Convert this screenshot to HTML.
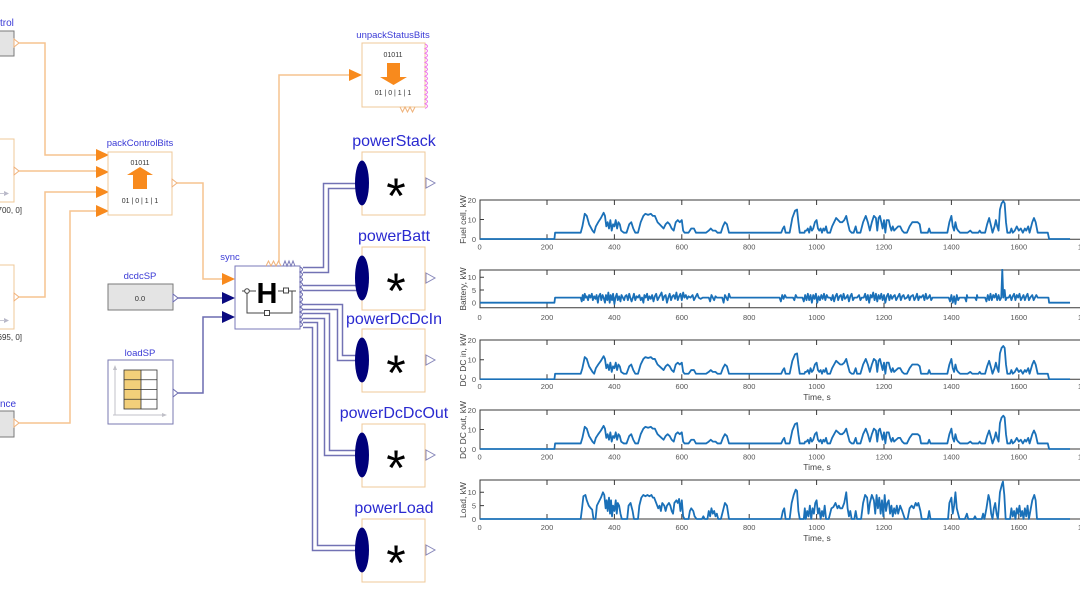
<!DOCTYPE html>
<html>
<head>
<meta charset="utf-8">
<style>
html,body{margin:0;padding:0;background:#fff;}
svg{display:block;}
</style>
</head>
<body>
<svg width="1080" height="608" viewBox="0 0 1080 608" xmlns="http://www.w3.org/2000/svg" font-family="'Liberation Sans', sans-serif">
<rect width="1080" height="608" fill="#fff"/>

<!-- ================= LEFT DIAGRAM ================= -->
<rect x="-10" y="31" width="24" height="25" fill="#e4e4e4" stroke="#7a7a7a" stroke-width="1"/>
<text x="0" y="26" font-size="10" fill="#3a3ad6">trol</text>
<polygon points="14,39 19,43 14,47" fill="#fff" stroke="#f0b27a" stroke-width="1"/>

<rect x="-50" y="139" width="64" height="63" fill="#fff" stroke="#efc898" stroke-width="1"/>
<polygon points="14,167 19,171 14,175" fill="#fff" stroke="#f0b27a" stroke-width="1"/>
<polygon points="4,191 9,193.5 4,196" fill="#b8b8c8"/>
<line x1="-2" y1="193.5" x2="5" y2="193.5" stroke="#c8c8d4" stroke-width="1"/>
<text x="22" y="213" font-size="8" fill="#333" text-anchor="end">[1700, 0]</text>

<rect x="-50" y="265" width="64" height="64" fill="#fff" stroke="#efc898" stroke-width="1"/>
<polygon points="14,293 19,297 14,301" fill="#fff" stroke="#f0b27a" stroke-width="1"/>
<polygon points="4,318 9,320.5 4,323" fill="#b8b8c8"/>
<line x1="-2" y1="320.5" x2="5" y2="320.5" stroke="#c8c8d4" stroke-width="1"/>
<text x="22" y="340" font-size="8" fill="#333" text-anchor="end">[1695, 0]</text>

<text x="0" y="407" font-size="10" fill="#3a3ad6">nce</text>
<rect x="-10" y="411" width="24" height="26" fill="#e4e4e4" stroke="#7a7a7a" stroke-width="1"/>
<polygon points="14,419 19,423 14,427" fill="#fff" stroke="#f0b27a" stroke-width="1"/>

<!-- orange wires -->
<g fill="none" stroke="#f6c38f" stroke-width="1.5">
<path d="M19,43 H45 V155 H97"/>
<path d="M19,171 H97"/>
<path d="M19,297 H45 V192 H97"/>
<path d="M19,423 H70 V211 H97"/>
<path d="M177,183 H203 V279 H222"/>
<path d="M279,262 V75 H349"/>
</g>
<g fill="#f88a1d">
<polygon points="96,149 109,155 96,161"/>
<polygon points="96,166 109,172 96,178"/>
<polygon points="96,186 109,192 96,198"/>
<polygon points="96,205 109,211 96,217"/>
<polygon points="222,273 235,279 222,285"/>
<polygon points="349,69 362,75 349,81"/>
</g>

<!-- packControlBits -->
<text x="140" y="146" font-size="9.5" fill="#3a3ad6" text-anchor="middle">packControlBits</text>
<rect x="108" y="152" width="64" height="63" fill="#fff" stroke="#efc898" stroke-width="1"/>
<text x="140" y="165" font-size="7" fill="#333" text-anchor="middle">01011</text>
<polygon points="140,167 153,175 147,175 147,189 133,189 133,175 127,175" fill="#f88a1d"/>
<text x="140" y="203" font-size="7" fill="#333" text-anchor="middle">01 | 0 | 1 | 1</text>
<polygon points="172,179 177,183 172,187" fill="#fff" stroke="#f0b27a" stroke-width="1"/>

<!-- dcdcSP -->
<text x="140" y="279" font-size="9.5" fill="#3a3ad6" text-anchor="middle">dcdcSP</text>
<rect x="108" y="284" width="65" height="26" fill="#e4e4e4" stroke="#7a7a7a" stroke-width="1"/>
<text x="140" y="301" font-size="7.5" fill="#333" text-anchor="middle">0.0</text>
<polygon points="173,294 178,298 173,302" fill="#fff" stroke="#6c6cb0" stroke-width="1"/>

<!-- loadSP -->
<text x="140" y="356" font-size="9.5" fill="#3a3ad6" text-anchor="middle">loadSP</text>
<rect x="108" y="360" width="65" height="64" fill="#fff" stroke="#7a7ab0" stroke-width="1"/>
<line x1="115" y1="368" x2="115" y2="415" stroke="#c0c0c8" stroke-width="1"/>
<line x1="113" y1="415" x2="165" y2="415" stroke="#c0c0c8" stroke-width="1"/>
<polygon points="113,370 115,365 117,370" fill="#c0c0c8"/>
<polygon points="162,413 167,415 162,417" fill="#c0c0c8"/>
<rect x="124" y="370" width="17" height="39" fill="#f2cf7a"/>
<rect x="141" y="370" width="16" height="39" fill="#fff"/>
<g stroke="#333" stroke-width="0.8" fill="none">
<rect x="124" y="370" width="33" height="39"/>
<line x1="141" y1="370" x2="141" y2="409"/>
<line x1="124" y1="379.75" x2="157" y2="379.75"/>
<line x1="124" y1="389.5" x2="157" y2="389.5"/>
<line x1="124" y1="399.25" x2="157" y2="399.25"/>
</g>
<polygon points="173,389 178,393 173,397" fill="#fff" stroke="#6c6cb0" stroke-width="1"/>

<g fill="none" stroke="#6c6cb0" stroke-width="1.5">
<path d="M178,298 H222"/>
<path d="M178,393 H203 V317 H222"/>
</g>
<g fill="#0a0a80">
<polygon points="222,292 235,298 222,304"/>
<polygon points="222,311 235,317 222,323"/>
</g>

<!-- sync -->
<text x="230" y="260" font-size="9.5" fill="#3a3ad6" text-anchor="middle">sync</text>
<rect x="235" y="266" width="65" height="63" fill="#fff" stroke="#7a7ab8" stroke-width="1"/>
<path d="M266,266 l2.5,-5 l2.5,5 l2.5,-5 l2.5,5 l2.5,-5 l2.5,5" fill="none" stroke="#f0b27a" stroke-width="1"/>
<path d="M283,266 l2,-5 l2,5 l2,-5 l2,5 l2,-5 l2,5" fill="none" stroke="#7a7ab8" stroke-width="1"/>
<path d="M300,267 q5,2.5 0,5 q5,2.5 0,5 q5,2.5 0,5 q5,2.5 0,5 q5,2.5 0,5 q5,2.5 0,5 q5,2.5 0,5 q5,2.5 0,5 q5,2.5 0,5 q5,2.5 0,5 q5,2.5 0,5 q5,2.5 0,5" fill="none" stroke="#6a6ab0" stroke-width="1"/>
<text x="267" y="303" font-size="29" font-weight="bold" fill="#000" text-anchor="middle">H</text>
<g stroke="#444" stroke-width="1" fill="none">
<line x1="242" y1="291" x2="256" y2="291"/>
<line x1="278" y1="291" x2="296" y2="291"/>
<path d="M247,291 V313 H292 V291"/>
</g>
<circle cx="247" cy="291" r="2.3" fill="#fff" stroke="#444" stroke-width="1"/>
<rect x="283.5" y="288" width="5" height="5" fill="#fff" stroke="#444" stroke-width="1"/>
<rect x="264.5" y="310.5" width="5" height="5" fill="#fff" stroke="#444" stroke-width="1"/>

<!-- unpackStatusBits -->
<text x="393" y="38" font-size="9.5" fill="#3a3ad6" text-anchor="middle">unpackStatusBits</text>
<rect x="362" y="43" width="63" height="64" fill="#fff" stroke="#efc898" stroke-width="1"/>
<text x="393" y="57" font-size="7" fill="#333" text-anchor="middle">01011</text>
<polygon points="387,63 400,63 400,77 407,77 393.5,85 380,77 387,77" fill="#f88a1d"/>
<text x="393" y="95" font-size="7" fill="#333" text-anchor="middle">01 | 0 | 1 | 1</text>
<path d="M425,44 q5,2.3 0,4.6 q5,2.3 0,4.6 q5,2.3 0,4.6 q5,2.3 0,4.6 q5,2.3 0,4.6 q5,2.3 0,4.6 q5,2.3 0,4.6 q5,2.3 0,4.6 q5,2.3 0,4.6 q5,2.3 0,4.6 q5,2.3 0,4.6 q5,2.3 0,4.6 q5,2.3 0,4.6 q5,2.3 0,4.6" fill="none" stroke="#ee77ee" stroke-width="1"/>
<path d="M400,107 l2.5,5 l2.5,-5 l2.5,5 l2.5,-5 l2.5,5 l2.5,-5" fill="none" stroke="#f0b27a" stroke-width="1"/>

<!-- buses -->
<g fill="none" stroke="#7272b4" stroke-width="6.5" stroke-linejoin="miter">
<path d="M303,270 H326 V186 H358"/>
<path d="M303,288 H358"/>
<path d="M303,307 H340 V358 H358"/>
<path d="M303,316 H327 V453 H358"/>
<path d="M303,325 H315 V548 H358"/>
</g>
<g fill="none" stroke="#fff" stroke-width="3.5" stroke-linejoin="miter">
<path d="M303,270 H326 V186 H358"/>
<path d="M303,288 H358"/>
<path d="M303,307 H340 V358 H358"/>
<path d="M303,316 H327 V453 H358"/>
<path d="M303,325 H315 V548 H358"/>
</g>

<!-- power blocks -->
<g font-size="16" fill="#2a2ad0" text-anchor="middle">
<text x="394" y="146">powerStack</text>
<text x="394" y="241">powerBatt</text>
<text x="394" y="324">powerDcDcIn</text>
<text x="394" y="418">powerDcDcOut</text>
<text x="394" y="513">powerLoad</text>
</g>
<g fill="#fff" stroke="#efc898" stroke-width="1">
<rect x="362" y="152" width="63" height="63"/>
<rect x="362" y="247" width="63" height="63"/>
<rect x="362" y="329" width="63" height="63"/>
<rect x="362" y="424" width="63" height="63"/>
<rect x="362" y="519" width="63" height="63"/>
</g>
<g fill="#00007a">
<ellipse cx="362" cy="183" rx="7" ry="22.5"/>
<ellipse cx="362" cy="278" rx="7" ry="22.5"/>
<ellipse cx="362" cy="360" rx="7" ry="22.5"/>
<ellipse cx="362" cy="455" rx="7" ry="22.5"/>
<ellipse cx="362" cy="550" rx="7" ry="22.5"/>
</g>
<g font-size="50" fill="#000" text-anchor="middle">
<text x="396" y="213">*</text>
<text x="396" y="308">*</text>
<text x="396" y="390">*</text>
<text x="396" y="485">*</text>
<text x="396" y="580">*</text>
</g>
<g fill="#fff" stroke="#8888bb" stroke-width="1">
<polygon points="426,178 435,183 426,188"/>
<polygon points="426,273 435,278 426,283"/>
<polygon points="426,355 435,360 426,365"/>
<polygon points="426,450 435,455 426,460"/>
<polygon points="426,545 435,550 426,555"/>
</g>

<!-- ================= CHARTS ================= -->
<defs>
<clipPath id="c1"><rect x="480" y="199" width="600" height="41"/></clipPath>
<clipPath id="c2"><rect x="480" y="269" width="600" height="39"/></clipPath>
<clipPath id="c3"><rect x="480" y="339" width="600" height="41"/></clipPath>
<clipPath id="c4"><rect x="480" y="409" width="600" height="41"/></clipPath>
<clipPath id="c5"><rect x="480" y="479" width="600" height="41"/></clipPath>
<polyline id="fc" fill="none" stroke="#1a70b8" stroke-width="1.8" stroke-linejoin="round" vector-effect="non-scaling-stroke" points="0,0 222,0 224,3 300,3 305,6 312,12 318,11 325,7 335,4 340,3 345,6 352,8 360,10 368,12.5 372,11 376,6 380,8 384,5 388,9 392,4 396,7 400,6 404,9 408,5 412,8 416,7 420,4 428,3 436,3 444,7 450,8 456,5 462,3 470,3 478,8 486,11 492,12 500,11.5 508,12 514,11 520,11 528,8 534,7 540,6 546,5 552,7 558,8 564,7 570,5 576,4 582,8 588,9 594,8 600,9 604,4 608,3 620,3 628,5 636,5 642,3 672,3 680,4 686,5 692,4 700,4 706,3 716,3 722,6 728,8 734,7 740,3 895,3 900,5 904,6 908,3 920,3 928,10 936,13.5 942,14 946,8 950,3 964,3 966,4 970,4 974,5 978,3 982,6 986,4 990,5 995,8 1000,9 1004,5 1008,4 1012,5 1016,3 1020,5 1024,4 1028,6 1032,3 1040,3 1046,6 1052,8 1058,10 1064,9 1070,8 1076,8 1082,9 1088,11 1092,8 1098,4 1104,3 1110,3 1116,6 1120,3 1130,3 1138,8 1146,11 1152,8 1158,4 1164,8 1170,11 1176,10 1180,4 1184,10 1188,11 1192,8 1196,5 1200,9 1204,3 1208,9 1214,9 1218,6 1222,4 1226,6 1230,4 1236,5 1242,6 1248,6 1254,4 1260,3 1268,3 1276,6 1284,8 1292,8 1300,8 1306,7 1310,3 1330,3 1334,5 1338,3 1388,3 1394,8 1400,11 1404,6 1408,4 1412,8 1416,5 1420,4 1426,3 1448,3 1456,4 1462,3 1480,3 1484,4 1488,3 1500,3 1506,7 1512,10 1518,6 1522,3 1528,6 1532,9 1536,6 1540,4 1544,14 1549,17 1554,18 1558,17 1562,8 1566,3 1574,3 1578,5 1582,3 1588,4 1594,6 1600,4 1606,5 1612,3 1618,5 1622,4 1628,6 1632,3 1640,8 1645,10 1650,8 1656,3 1686,3 1690,0 1752,0"/>
</defs>

<g fill="none" stroke="#3a3a3a" stroke-width="1">
<path d="M1080,200 H480 V239.3 H1080"/>
<path d="M1080,270 H480 V307.7 H1080"/>
<path d="M1080,340 H480 V379.3 H1080"/>
<path d="M1080,410 H480 V449 H1080"/>
<path d="M1080,480 H480 V519 H1080"/>
</g>
<g stroke="#3a3a3a" stroke-width="1">
<path d="M547,200 v5 M614.4,200 v5 M681.8,200 v5 M749.2,200 v5 M816.6,200 v5 M884,200 v5 M951.4,200 v5 M1018.8,200 v5 M547,239.3 v-5 M614.4,239.3 v-5 M681.8,239.3 v-5 M749.2,239.3 v-5 M816.6,239.3 v-5 M884,239.3 v-5 M951.4,239.3 v-5 M1018.8,239.3 v-5"/>
<path d="M547,270 v5 M614.4,270 v5 M681.8,270 v5 M749.2,270 v5 M816.6,270 v5 M884,270 v5 M951.4,270 v5 M1018.8,270 v5 M547,307.7 v-5 M614.4,307.7 v-5 M681.8,307.7 v-5 M749.2,307.7 v-5 M816.6,307.7 v-5 M884,307.7 v-5 M951.4,307.7 v-5 M1018.8,307.7 v-5"/>
<path d="M547,340 v5 M614.4,340 v5 M681.8,340 v5 M749.2,340 v5 M816.6,340 v5 M884,340 v5 M951.4,340 v5 M1018.8,340 v5 M547,379.3 v-5 M614.4,379.3 v-5 M681.8,379.3 v-5 M749.2,379.3 v-5 M816.6,379.3 v-5 M884,379.3 v-5 M951.4,379.3 v-5 M1018.8,379.3 v-5"/>
<path d="M547,410 v5 M614.4,410 v5 M681.8,410 v5 M749.2,410 v5 M816.6,410 v5 M884,410 v5 M951.4,410 v5 M1018.8,410 v5 M547,449 v-5 M614.4,449 v-5 M681.8,449 v-5 M749.2,449 v-5 M816.6,449 v-5 M884,449 v-5 M951.4,449 v-5 M1018.8,449 v-5"/>
<path d="M547,480 v5 M614.4,480 v5 M681.8,480 v5 M749.2,480 v5 M816.6,480 v5 M884,480 v5 M951.4,480 v5 M1018.8,480 v5 M547,519 v-5 M614.4,519 v-5 M681.8,519 v-5 M749.2,519 v-5 M816.6,519 v-5 M884,519 v-5 M951.4,519 v-5 M1018.8,519 v-5"/>
<path d="M480,219.5 h4 M480,302.7 h4 M480,290 h4 M480,277.2 h4 M480,359.8 h4 M480,429.5 h4 M480,505.6 h4 M480,492.3 h4"/>
</g>

<g clip-path="url(#c1)"><use href="#fc" transform="translate(479.6,239) scale(0.337,-2.1)"/></g>
<g clip-path="url(#c3)"><use href="#fc" transform="translate(479.6,379.3) scale(0.337,-1.85)"/></g>
<g clip-path="url(#c4)"><use href="#fc" transform="translate(479.6,449) scale(0.337,-1.85)"/></g>
<g clip-path="url(#c2)">
<polyline transform="translate(479.6,302.7) scale(0.337,-2.55)" fill="none" stroke="#1a70b8" stroke-width="1.8" stroke-linejoin="round" vector-effect="non-scaling-stroke" points="0,0 222,0 224,2 300,2 303,0.5 306,3 309,1 312,3.5 315,2 318,2.5 322,1 325,3 329,2 333,3.5 336,1 340,2.5 344,1.5 347,3 351,0 354,2.5 358,3.5 361,1 365,3 368,2 372,0 375,3 379,1 382,4 386,0 389,3 393,1 396,3.5 400,-0.5 403,2 407,3.5 410,1 414,2.5 418,0.5 421,3 425,2 429,1 432,2.5 436,3 440,1 444,3.5 447,2 451,0.5 455,2 458,3.5 462,1 466,2.5 470,2 474,3 478,1 482,2 486,0 489,3 493,2 497,3.5 500,1 504,2.5 508,1.5 512,3 516,0.5 520,2.5 524,3.5 528,1 532,2 536,3 540,4 544,1 548,2.5 552,3 556,0 560,2 564,3.5 568,1 572,2.5 576,3 580,1.5 584,4 588,1 592,2.5 596,3.5 600,1 604,4 608,2 612,3 616,1.5 620,2.5 626,2 632,3 636,1 640,2 646,3.5 650,2 656,1.5 662,2 680,2 684,0.5 688,3 692,2 696,1 700,2.5 704,2 720,2 724,0 728,3 732,2 736,1 740,3.5 744,2 890,2 894,0.5 898,3 902,1.5 906,3 910,2 930,2 934,1 938,3 942,2 958,2 962,0.5 966,3 970,1 974,3.5 978,1 982,3 986,0 990,3 994,1.5 998,3.5 1002,0 1006,2.5 1010,1 1014,3 1018,1.5 1022,3.5 1026,1 1030,3 1034,2 1040,2 1044,1 1048,3 1052,0.5 1056,2.5 1060,3.5 1064,1 1068,2.5 1072,3 1076,1 1080,3.5 1084,1.5 1088,2 1092,3 1096,0.5 1100,2.5 1104,3.5 1108,1 1112,2 1120,2 1126,3 1130,1 1134,2 1140,2 1144,3.5 1148,1 1152,3 1156,0 1160,3 1164,2 1168,4 1172,1 1176,3.5 1180,0.5 1184,3 1188,1.5 1192,3.5 1196,1 1200,3 1204,0 1208,2.5 1212,3.5 1216,1 1220,3 1224,1.5 1228,2.5 1232,3 1236,1 1240,2 1246,3.5 1250,1 1254,2.5 1258,3 1262,1.5 1268,2 1272,3 1276,1 1280,2.5 1286,3 1290,1 1294,2 1298,3.5 1302,1 1306,2.5 1310,2 1316,3 1320,1 1324,3.5 1328,1.5 1332,2 1336,3 1340,1 1344,2 1392,2 1396,0.5 1400,3 1404,0 1408,2.5 1412,-0.5 1416,3 1420,1 1424,2 1440,2 1444,0.5 1446,3 1448,2 1470,2 1474,1 1476,3 1478,2 1500,2 1504,0.5 1508,3 1512,1 1516,3.5 1520,1 1524,3 1528,2 1532,3.5 1536,1 1540,3 1544,1 1548,2 1551,13 1554,2 1558,5 1561,1 1565,2 1570,2 1574,3 1578,1 1582,2.5 1586,3.5 1590,1 1594,3 1598,2 1602,3.5 1606,1 1610,2 1614,3 1618,1 1622,2.5 1626,3.5 1630,1 1634,2 1640,3 1644,1 1648,2 1652,3 1656,2 1688,2 1690,0 1752,0"/>
</g>
<g clip-path="url(#c5)">
<polyline transform="translate(479.6,519) scale(0.337,-2.67)" fill="none" stroke="#1a70b8" stroke-width="1.8" stroke-linejoin="round" vector-effect="non-scaling-stroke" points="0,0 300,0 304,4 308,8.5 314,9 318,7 324,5 330,4 334,3.5 338,0 344,0 348,5 354,6.5 360,8 366,10 370,9 374,4 377,7 380,3 384,8 387,2 390,7 393,1 396,5 400,3 404,7 407,2 410,6 414,5 418,2 422,0 438,0 442,5 448,6 454,3 458,0 470,0 474,5 480,8 486,9 492,8.5 498,9 504,8.5 510,9 514,8 518,8 524,6 530,4 534,5 538,3 542,6 548,5 552,3 556,5 562,6 566,5 570,3 574,2 578,6 584,7 588,6 592,7.5 596,3 600,7 604,1 608,0 620,0 624,3 628,4 634,3 638,1 644,0 660,0 664,1 668,0 676,0 680,3 684,1 688,4 692,2 696,3 700,1 704,2 708,0 716,0 722,3 728,6 734,5 740,0 895,0 900,3 904,4 908,0 920,0 926,6 932,9 938,11 942,10.5 946,3 950,0 962,0 965,4 968,0 972,3 976,1 980,5 984,0 988,4 992,2 996,6 1000,7 1004,2 1008,4 1012,0 1016,3 1020,1 1024,5 1028,0 1036,0 1044,4 1050,4.5 1056,6 1062,4 1066,5 1070,4 1076,4 1082,6 1088,10 1092,4 1096,1 1100,3 1104,0 1112,0 1116,3 1120,0 1132,0 1138,6 1144,9 1150,8 1154,2 1158,6 1164,9 1170,7 1174,2 1178,9 1182,4 1186,8 1190,2 1194,7 1198,1 1202,9 1206,3 1210,6 1214,7 1218,2 1222,5 1226,1 1230,4 1234,2 1238,5 1242,2 1248,5 1254,3 1262,0 1270,0 1276,4 1282,5 1288,4 1294,6 1298,5 1302,6 1308,3 1312,0 1330,0 1334,3 1338,0 1390,0 1394,6 1400,8 1404,2 1408,5 1412,10 1416,4 1420,2 1424,0 1440,0 1446,2 1450,0 1466,0 1470,1 1474,0 1490,0 1494,2 1498,0 1504,4 1510,9 1514,7 1518,2 1522,0 1526,4 1530,6 1534,2 1538,0 1544,10 1550,13 1553,14 1557,9 1561,0 1574,0 1578,4 1582,1 1586,3 1590,0 1594,4 1598,2 1602,5 1606,1 1610,3 1614,0 1618,4 1622,1 1626,5 1630,0 1640,7 1646,9 1650,7 1654,0 1752,0"/>
</g>

<g font-size="7.5" fill="#555" text-anchor="middle">
<text x="479.6" y="249.5">0</text><text x="547" y="249.5">200</text><text x="614.4" y="249.5">400</text><text x="681.8" y="249.5">600</text><text x="749.2" y="249.5">800</text><text x="816.6" y="249.5">1000</text><text x="884" y="249.5">1200</text><text x="951.4" y="249.5">1400</text><text x="1018.8" y="249.5">1600</text><text x="1086.2" y="249.5">1800</text>
<text x="479.6" y="320">0</text><text x="547" y="320">200</text><text x="614.4" y="320">400</text><text x="681.8" y="320">600</text><text x="749.2" y="320">800</text><text x="816.6" y="320">1000</text><text x="884" y="320">1200</text><text x="951.4" y="320">1400</text><text x="1018.8" y="320">1600</text><text x="1086.2" y="320">1800</text>
<text x="479.6" y="389">0</text><text x="547" y="389">200</text><text x="614.4" y="389">400</text><text x="681.8" y="389">600</text><text x="749.2" y="389">800</text><text x="816.6" y="389">1000</text><text x="884" y="389">1200</text><text x="951.4" y="389">1400</text><text x="1018.8" y="389">1600</text><text x="1086.2" y="389">1800</text>
<text x="479.6" y="459.5">0</text><text x="547" y="459.5">200</text><text x="614.4" y="459.5">400</text><text x="681.8" y="459.5">600</text><text x="749.2" y="459.5">800</text><text x="816.6" y="459.5">1000</text><text x="884" y="459.5">1200</text><text x="951.4" y="459.5">1400</text><text x="1018.8" y="459.5">1600</text><text x="1086.2" y="459.5">1800</text>
<text x="479.6" y="530">0</text><text x="547" y="530">200</text><text x="614.4" y="530">400</text><text x="681.8" y="530">600</text><text x="749.2" y="530">800</text><text x="816.6" y="530">1000</text><text x="884" y="530">1200</text><text x="951.4" y="530">1400</text><text x="1018.8" y="530">1600</text><text x="1086.2" y="530">1800</text>
</g>
<g font-size="7.5" fill="#555" text-anchor="end">
<text x="476" y="203">20</text><text x="476" y="222.5">10</text><text x="476" y="242">0</text>
<text x="476" y="280">10</text><text x="476" y="293">5</text><text x="476" y="305.5">0</text>
<text x="476" y="343">20</text><text x="476" y="362.5">10</text><text x="476" y="382">0</text>
<text x="476" y="413">20</text><text x="476" y="432.5">10</text><text x="476" y="452">0</text>
<text x="476" y="495">10</text><text x="476" y="508.5">5</text><text x="476" y="522">0</text>
</g>
<g font-size="8.5" fill="#444" text-anchor="middle">
<text transform="translate(466,219.5) rotate(-90)">Fuel cell, kW</text>
<text transform="translate(466,289) rotate(-90)">Battery, kW</text>
<text transform="translate(466,360) rotate(-90)">DC DC in, kW</text>
<text transform="translate(466,430) rotate(-90)">DC DC out, kW</text>
<text transform="translate(466,500) rotate(-90)">Load, kW</text>
<text x="817" y="400">Time, s</text>
<text x="817" y="470">Time, s</text>
<text x="817" y="541">Time, s</text>
</g>
</svg>
</body>
</html>
